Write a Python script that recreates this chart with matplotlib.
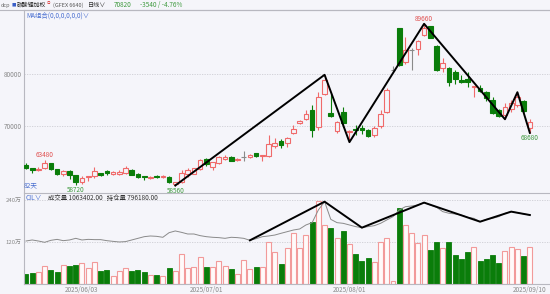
import matplotlib
matplotlib.use("Agg")
import matplotlib.pyplot as plt
import numpy as np

plt.rcParams['font.family'] = ['Noto Sans CJK SC', 'DejaVu Sans']

# 日线 OHLC (碳酸锂加权), 82 天
opens = [62550, 61900, 61550, 61850, 62800, 61650, 60750, 61400, 60550, 59200,
         60200, 60300, 60900, 61300, 60800, 60750, 61050, 61550, 60850, 60400,
         60000, 60400, 60150, 60250, 58900, 59300, 60800, 60850, 61800, 63700,
         62200, 62800, 63650, 64000, 63450, 63950, 63950, 64750, 64300, 64250,
         66150, 67180, 66650, 68600, 70500, 71350, 73000, 69900, 76100, 72500,
         68950, 72750, 68900, 69450, 69550, 69250, 68270, 70060, 72760, 80800,
         88800, 82400, 84600, 84900, 87500, 89200, 85400, 81100, 81100, 80450,
         78850, 78970, 77550, 77370, 76470, 74990, 73080, 72100, 73200, 74040,
         74810, 69550]
highs = [62800, 62000, 62100, 63480, 62900, 61700, 61600, 61500, 60600, 60300,
         60450, 62050, 61000, 61600, 61400, 61500, 62300, 61650, 60900, 60450,
         60350, 60650, 60500, 60300, 59300, 61500, 62000, 62000, 63700, 63800,
         63100, 64200, 64400, 64200, 63900, 65100, 64600, 64900, 64450, 68200,
         67700, 67500, 67900, 70100, 71200, 73050, 74000, 76600, 79850, 76400,
         71000, 73700, 69300, 70200, 70200, 69500, 70000, 73000, 77300, 81500,
         88850, 87100, 85000, 86600, 89660, 89300, 85500, 83000, 81300, 80700,
         79800, 80450, 77750, 77900, 76800, 75640, 73300, 74360, 75000, 76500,
         75000, 71400]
lows = [61800, 61050, 61400, 61700, 61600, 60550, 60400, 59900, 58720, 58900,
        59400, 59950, 60300, 60500, 60600, 60500, 60700, 60500, 60000, 59700,
        59800, 60000, 60000, 59100, 58560, 59100, 60200, 60700, 61600, 62400,
        61600, 62700, 63500, 63200, 63250, 63350, 63800, 64100, 63350, 64100,
        65700, 65800, 66000, 68400, 70300, 71100, 67950, 69200, 75900, 71700,
        68700, 69850, 66900, 68250, 68400, 67800, 67900, 69550, 72500, 80700,
        81600, 82000, 80800, 83700, 87300, 86900, 80600, 80450, 77750, 78100,
        78200, 77550, 75500, 76600, 74900, 72300, 71700, 71300, 72760, 73720,
        72700, 68680]
closes = [61900, 61550, 61800, 62800, 61650, 60700, 61400, 60600, 59300, 60050,
          60400, 61400, 60550, 60900, 61150, 61150, 61900, 60650, 60100, 60150,
          60200, 60250, 60350, 59250, 59250, 60950, 61500, 61850, 63450, 62600,
          63000, 63950, 64100, 63350, 63700, 63950, 64400, 64250, 64400, 66550,
          66650, 66280, 67750, 69500, 70950, 72350, 69250, 75600, 78800, 72000,
          70700, 70650, 69050, 69250, 69250, 68150, 69680, 72240, 76860, 80800,
          81750, 84600, 84600, 86350, 88800, 87000, 80800, 82050, 78550, 79040,
          78500, 78400, 77700, 76730, 75320, 72560, 71920, 73720, 74360, 75640,
          72950, 70820]
# 成交量 / 持仓量 (万手)
volume = [28.6, 30.5, 34.3, 51.4, 39.0, 34.3, 54.3, 52.4, 54.3, 59.0,
          45.0, 63.8, 37.0, 39.0, 23.8, 36.2, 45.0, 38.0, 40.0, 35.0,
          26.7, 24.8, 23.8, 45.0, 37.0, 85.7, 46.0, 47.6, 78.0, 49.5,
          47.6, 65.7, 51.4, 41.9, 27.6, 67.6, 41.9, 49.5, 49.5, 121.0,
          92.4, 56.0, 103.8, 146.0, 103.8, 140.0, 178.0, 237.0, 168.6, 160.9,
          130.5, 152.4, 113.3, 85.7, 65.7, 75.2, 64.0, 120.0, 130.5, 8.6,
          216.0, 168.6, 145.0, 118.0, 140.0, 97.0, 120.0, 104.0, 121.0, 82.0,
          72.4, 90.5, 104.8, 64.8, 70.5, 82.0, 59.0, 94.3, 106.7, 99.0,
          79.0, 106.3]
oi = [49.6, 50.8, 49.6, 48.1, 50.4, 51.5, 50.0, 50.8, 52.7, 50.8,
      51.5, 51.2, 51.2, 50.0, 49.2, 48.5, 48.9, 50.8, 52.7, 54.6,
      55.4, 55.0, 53.9, 59.2, 61.2, 59.6, 57.7, 57.7, 55.8, 54.6,
      53.9, 53.5, 52.7, 53.9, 53.5, 52.7, 50.4, 52.3, 54.6, 55.4,
      56.5, 58.5, 60.4, 62.3, 63.5, 68.1, 70.8, 85.4, 95.0, 74.6,
      70.8, 70.0, 68.1, 66.2, 65.0, 66.2, 67.3, 70.0, 73.9, 77.7,
      85.4, 89.2, 90.0, 91.2, 93.9, 91.2, 88.5, 83.5, 81.6, 80.8,
      79.6, 76.9, 75.8, 71.9, 74.6, 75.8, 77.7, 81.6, 83.5, 82.3,
      80.8, 79.6]
date_pos = [9, 29, 52, 81]
date_labels = ["2025/06/03", "2025/07/01", "2025/08/01", "2025/09/10"]
zz_price = [24, 48, 52, 64, 77, 79, 81]   # 低-高交替
zz_oi = [36, 48, 54, 64, 73, 78, 81]
hi_marks = [3, 64]
lo_marks = [8, 24, 81]

RED, GREEN, GRAY, BG = "#f06a6a", "#0a7d0a", "#8a8a8a", "#f5f5fa"
VOL_SCALE = 0.4039   # 持仓量轴 / 成交量轴

n = len(opens)
x = np.arange(n)
o, h, l, c = map(np.array, (opens, highs, lows, closes))

fig = plt.figure(figsize=(5.5, 2.94), dpi=100, facecolor=BG)
ax = fig.add_axes([24 / 550, 1 - 192 / 294, 1 - 24 / 550, 182 / 294], facecolor=BG)
axv = fig.add_axes([24 / 550, 1 - 284 / 294, 1 - 24 / 550, 91.5 / 294], facecolor=BG)

# K 线
for i in range(n):
    top, bot = max(o[i], c[i]), min(o[i], c[i])
    if c[i] > o[i]:
        col, fill = RED, BG
    elif c[i] < o[i]:
        col, fill = GREEN, GREEN
    else:
        col, fill = GRAY, GRAY
    ax.vlines(x[i], top, h[i], color=col, lw=0.8)
    ax.vlines(x[i], l[i], bot, color=col, lw=0.8)
    if top == bot:
        ax.hlines(top, x[i] - 0.38, x[i] + 0.38, color=col, lw=0.8)
    else:
        ax.bar(x[i], top - bot, bottom=bot, width=0.75, facecolor=fill,
               edgecolor=col, lw=0.8, zorder=3)

zy = [l[i] if k % 2 == 0 else h[i] for k, i in enumerate(zz_price)]
ax.plot(zz_price, zy, color="black", lw=1.4, zorder=5)

for i in hi_marks:
    ax.annotate(f"{h[i]:.0f}", (x[i], h[i]), xytext=(0, 0.8), textcoords="offset points",
                ha="center", va="bottom", fontsize=4.6, color="#e05050")
for i in lo_marks:
    ax.annotate(f"{l[i]:.0f}", (x[i], l[i]), xytext=(0, -0.8), textcoords="offset points",
                ha="center", va="top", fontsize=4.6, color="#3f9a3f")

for v in (70000, 80000):
    ax.axhline(v, color="#cdcdd3", lw=0.6, ls=(0, (1.5, 1.5)), zorder=0)
ax.set_xlim(-0.32, 84.24)
ax.set_ylim(57310, 92310)
ax.set_yticks([70000, 80000])
ax.set_yticklabels(["70000", "80000"])
ax.set_xticks([])
ax.tick_params(axis="y", length=0, pad=1.5, labelsize=4.6, labelcolor="#8a8a8a")
for s in ("right", "bottom"):
    ax.spines[s].set_visible(False)
for s in ("left", "top"):
    ax.spines[s].set_color("#b8b8c0")
    ax.spines[s].set_linewidth(0.8)

ax.text(0.004, 0.985, "MA组合(0,0,0,0,0,0)∨", transform=ax.transAxes, fontsize=4.6,
        color="#4a6fd0", va="top")
ax.text(0.0, 0.035, "82天", transform=ax.transAxes, fontsize=4.8, color="#4a6fd0", va="center")

# 成交量
for i in range(n):
    if c[i] < o[i]:
        axv.bar(x[i], volume[i], width=0.8, facecolor=GREEN, edgecolor=GREEN, lw=0.6)
    else:
        axv.bar(x[i], volume[i], width=0.8, facecolor="#fffafa", edgecolor="#f29a9a", lw=0.8)
for v in (120, 240):
    axv.axhline(v, color="#cdcdd3", lw=0.6, ls=(0, (1.5, 1.5)), zorder=0)
axv.set_xlim(-0.32, 84.24)
axv.set_ylim(0, 261.4)
axv.set_yticks([120, 240])
axv.set_yticklabels(["120万", "240万"])
axv.set_xticks(date_pos)
axv.set_xticklabels(date_labels)
axv.tick_params(axis="y", length=0, pad=1.5, labelsize=4.3, labelcolor="#8a8a8a")
axv.tick_params(axis="x", length=0, pad=1.5, labelsize=4.6, labelcolor="#8a8a8a")
axv.spines["right"].set_visible(False)
for s in ("left", "top", "bottom"):
    axv.spines[s].set_color("#b8b8c0")
    axv.spines[s].set_linewidth(0.8)

axo = axv.twinx()
axo.set_ylim(0, 261.4 * VOL_SCALE)
axo.plot(x, oi, color=GRAY, lw=0.7)
axo.plot(zz_oi, [oi[i] for i in zz_oi], color="black", lw=1.4)
axo.axis("off")

axv.text(0.004, 0.985, "CIL∨", transform=axv.transAxes, fontsize=4.8, color="#4a6fd0", va="top")
axv.text(0.045, 0.985, "成交量 1063402.00   持仓量 796180.00", transform=axv.transAxes,
         fontsize=4.6, color="#333333", va="top")

# 顶部标题栏
yh = 1 - 5 / 294
fig.text(0.002, yh, "dcp", fontsize=4.0, color="#666666", va="center")
fig.text(0.021, yh, "■", fontsize=3.2, color="#3a5fc8", va="center")
fig.text(0.030, yh, "碳酸锂加权", fontsize=4.2, color="#222222", va="center")
fig.text(0.086, 1 - 3.5 / 294, "◎", fontsize=2.6, color="#e05050", va="center")
fig.text(0.096, yh, "(GFEX 6640)", fontsize=4.0, color="#555555", va="center")
fig.text(0.160, yh, "日线∨", fontsize=4.4, color="#333333", va="center")
fig.text(0.206, yh, "70820", fontsize=4.6, color="#3f9a3f", va="center")
fig.text(0.255, yh, "-3540 / -4.76%", fontsize=4.6, color="#3f9a3f", va="center")
fig.add_artist(plt.Line2D([0, 1], [1 - 9.5 / 294] * 2, color="#b8b8c0", lw=0.8))

fig.savefig("out.png", dpi=100, facecolor=BG)
